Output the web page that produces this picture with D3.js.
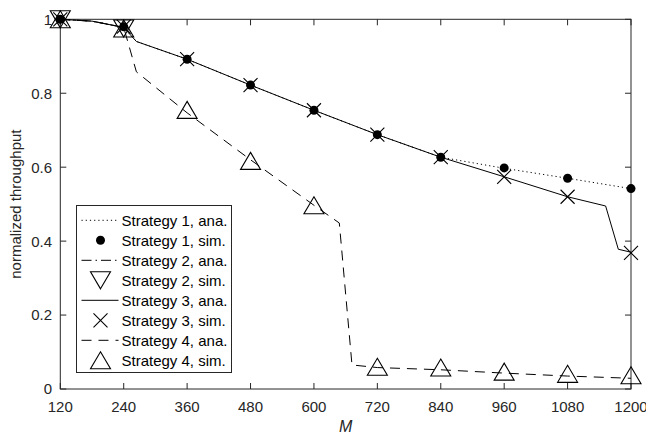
<!DOCTYPE html>
<html>
<head>
<meta charset="utf-8">
<script src="https://cdn.jsdelivr.net/npm/d3@7"></script>
<style>
  body { margin: 0; background: #fff; }
  svg { display: block; font-family: "Liberation Sans", Arial, sans-serif; }
</style>
</head>
<body>
<svg id="chart" width="646" height="437"></svg>
<script>
// tick labels
const mTicks = [120, 240, 360, 480, 600, 720, 840, 960, 1080, 1200];
const yTicks = [0, 0.2, 0.4, 0.6, 0.8, 1];

// simulation points
const simM = [120, 240, 360, 480, 600, 720, 840, 960, 1080, 1200];
const s1Sim = [1.0, 0.98, 0.892, 0.822, 0.754, 0.688, 0.627, 0.598, 0.570, 0.542];
const s2SimM = [120, 240];
const s2Sim = [1.0, 0.975];
const s3Sim = [1.0, 0.98, 0.892, 0.822, 0.754, 0.688, 0.627, 0.574, 0.520, 0.368];
const s4Sim = [1.0, 0.975, 0.755, 0.617, 0.497, 0.060, 0.058, 0.047, 0.041, 0.037];

// analytical curves
const s1AnaM = [120, 180, 240, 264, 360, 480, 600, 720, 840, 960, 1080, 1200];
const s1Ana = [1.0, 0.995, 0.978, 0.94, 0.892, 0.822, 0.754, 0.688, 0.627, 0.597, 0.570, 0.542];
const s2AnaM = [120, 180, 240];
const s2Ana = [1.0, 0.995, 0.978];
const s3AnaM = [120, 180, 240, 264, 360, 480, 600, 720, 840, 960, 1080, 1152, 1176, 1200];
const s3Ana = [1.0, 0.995, 0.978, 0.94, 0.892, 0.822, 0.754, 0.688, 0.627, 0.574, 0.520, 0.495, 0.378, 0.370];
const s4AnaM = [120, 180, 240, 264, 360, 480, 600, 648, 672, 720, 840, 960, 1080, 1200];
const s4Ana = [1.0, 0.995, 0.978, 0.858, 0.747, 0.620, 0.497, 0.449, 0.065, 0.058, 0.052, 0.043, 0.035, 0.029];

const legendLabels = ["Strategy 1, ana.", "Strategy 1, sim.", "Strategy 2, ana.", "Strategy 2, sim.",
  "Strategy 3, ana.", "Strategy 3, sim.", "Strategy 4, ana.", "Strategy 4, sim."];

const axisColor = "#262626";
const svg = d3.select("#chart");

const x = d3.scaleLinear().domain([120, 1200]).range([60.3, 631]);
const y = d3.scaleLinear().domain([0, 1]).range([389, 19.3]);

const pts = (ms, vs) => ms.map((m, i) => [m, vs[i]]);
const line = d3.line().x(d => x(d[0])).y(d => y(d[1]));

// marker drawing
function marker(g, type, cx, cy) {
  if (type === "dot") {
    g.append("circle").attr("cx", cx).attr("cy", cy).attr("r", 4.5).attr("fill", "#000");
  } else if (type === "x") {
    const s = 7;
    g.append("path")
      .attr("d", `M${cx - s},${cy - s}L${cx + s},${cy + s}M${cx - s},${cy + s}L${cx + s},${cy - s}`)
      .attr("stroke", "#000").attr("stroke-width", 1.1).attr("fill", "none");
  } else if (type === "tri-up") {
    g.append("path")
      .attr("d", `M${cx},${cy - 8.5}L${cx + 10},${cy + 8.5}L${cx - 10},${cy + 8.5}Z`)
      .attr("stroke", "#000").attr("stroke-width", 1.1).attr("fill", "none");
  } else if (type === "tri-down") {
    g.append("path")
      .attr("d", `M${cx},${cy + 8.5}L${cx + 10},${cy - 8.5}L${cx - 10},${cy - 8.5}Z`)
      .attr("stroke", "#000").attr("stroke-width", 1.1).attr("fill", "none");
  }
}

const series = [
  { kind: "line", data: pts(s1AnaM, s1Ana), dash: "1.2,3" },
  { kind: "mark", data: pts(simM, s1Sim), type: "dot" },
  { kind: "line", data: pts(s2AnaM, s2Ana), dash: "10,4,1.5,4" },
  { kind: "mark", data: pts(s2SimM, s2Sim), type: "tri-down" },
  { kind: "line", data: pts(s3AnaM, s3Ana), dash: null },
  { kind: "mark", data: pts(simM, s3Sim), type: "x" },
  { kind: "line", data: pts(s4AnaM, s4Ana), dash: "10,7" },
  { kind: "mark", data: pts(simM, s4Sim), type: "tri-up" }
];

// axes box
const plot = svg.append("g");
plot.append("rect")
  .attr("x", x(120)).attr("y", y(1))
  .attr("width", x(1200) - x(120)).attr("height", y(0) - y(1))
  .attr("fill", "none").attr("stroke", axisColor).attr("stroke-width", 1);

// ticks (inside, all four sides)
const tl = 6;
mTicks.forEach(m => {
  plot.append("line").attr("x1", x(m)).attr("x2", x(m)).attr("y1", y(0)).attr("y2", y(0) - tl)
    .attr("stroke", axisColor);
  plot.append("line").attr("x1", x(m)).attr("x2", x(m)).attr("y1", y(1)).attr("y2", y(1) + tl)
    .attr("stroke", axisColor);
  plot.append("text").attr("x", x(m)).attr("y", 412)
    .attr("text-anchor", "middle").attr("fill", axisColor).style("font-size", "15px")
    .text(m);
});
yTicks.forEach(v => {
  plot.append("line").attr("x1", x(120)).attr("x2", x(120) + tl).attr("y1", y(v)).attr("y2", y(v))
    .attr("stroke", axisColor);
  plot.append("line").attr("x1", x(1200)).attr("x2", x(1200) - tl).attr("y1", y(v)).attr("y2", y(v))
    .attr("stroke", axisColor);
  plot.append("text").attr("x", 52).attr("y", y(v)).attr("dy", "0.36em")
    .attr("text-anchor", "end").attr("fill", axisColor).style("font-size", "15px")
    .text(v);
});

// axis labels
svg.append("text").attr("x", (x(120) + x(1200)) / 2).attr("y", 432)
  .attr("text-anchor", "middle").attr("fill", axisColor)
  .style("font-size", "16px").style("font-style", "italic").text("M");
svg.append("text")
  .attr("transform", `translate(21,${(y(0) + y(1)) / 2}) rotate(-90)`)
  .attr("text-anchor", "middle").attr("fill", axisColor)
  .style("font-size", "15px").text("normalized throughput");

// data
const dataG = svg.append("g");
series.forEach(s => {
  if (s.kind === "line") {
    dataG.append("path").datum(s.data).attr("d", line)
      .attr("fill", "none").attr("stroke", "#000").attr("stroke-width", 1)
      .attr("stroke-dasharray", s.dash);
  } else {
    s.data.forEach(d => marker(dataG, s.type, x(d[0]), y(d[1])));
  }
});

// legend
const lg = svg.append("g");
lg.append("rect").attr("x", 76.5).attr("y", 205.5).attr("width", 155).attr("height", 167)
  .attr("fill", "#fff").attr("stroke", axisColor).attr("stroke-width", 1);
legendLabels.forEach((label, i) => {
  const ry = 220.3 + i * 20;
  const s = series[i];
  if (s.kind === "line") {
    lg.append("line").attr("x1", 81.5).attr("x2", 118.5).attr("y1", ry).attr("y2", ry)
      .attr("stroke", "#000").attr("stroke-width", 1).attr("stroke-dasharray", s.dash);
  } else {
    marker(lg, s.type, 100.5, ry);
  }
  lg.append("text").attr("x", 121.5).attr("y", ry).attr("dy", "0.36em")
    .attr("fill", "#000").style("font-size", "15px").text(label);
});
</script>
</body>
</html>
